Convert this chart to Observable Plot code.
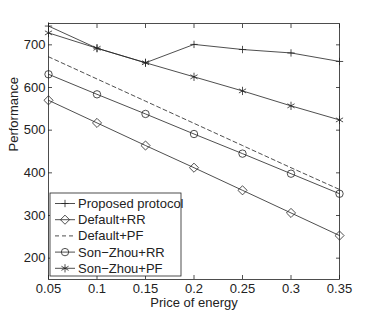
<!DOCTYPE html>
<html><head><meta charset="utf-8">
<script src="https://cdn.jsdelivr.net/npm/d3@7"></script>
<script src="https://cdn.jsdelivr.net/npm/@observablehq/plot@0.6"></script>
<style>
html,body{margin:0;padding:0;background:#fff;}
#chart{position:relative;width:374px;height:315px;}
</style>
</head><body><div id="chart"></div>
<script>
const prices = [0.05, 0.1, 0.15, 0.2, 0.25, 0.3, 0.35];
const proposed = [744, 692, 658, 701, 689, 681, 661];
const defaultRR = [570, 517, 464, 412, 359, 306, 253];
const defaultPF = [672, 620, 568, 516, 464, 412, 361];
const sonZhouRR = [631, 584, 538, 491, 445, 398, 351];
const sonZhouPF = [728, 692, 658, 625, 592, 557, 524];
const seriesNames = ["Proposed protocol", "Default+RR", "Default+PF", "Son\u2212Zhou+RR", "Son\u2212Zhou+PF"];
const seriesValues = [proposed, defaultRR, defaultPF, sonZhouRR, sonZhouPF];
const seriesSymbols = ["plus", "diamond2", null, "circle", "asterisk"];
const symbolR = {plus: 2.5, diamond2: 4.1, circle: 3.7, asterisk: 3.9};
const xTicks = [0.05, 0.1, 0.15, 0.2, 0.25, 0.3, 0.35];
const xTickLabels = ["0.05", "0.1", "0.15", "0.2", "0.25", "0.3", "0.35"];
const yTicks = [200, 300, 400, 500, 600, 700];

const ink = "#222";
const font = "Liberation Sans, Arial, Helvetica, sans-serif";

const marks = [];
seriesValues.forEach((vals, i) => {
  const data = prices.map((p, j) => ({x: p, y: vals[j]}));
  marks.push(Plot.line(data, {x: "x", y: "y", stroke: ink, strokeWidth: 0.8,
    strokeDasharray: seriesSymbols[i] ? null : "4,3"}));
  if (seriesSymbols[i]) {
    marks.push(Plot.dot(data, {x: "x", y: "y", symbol: () => seriesSymbols[i],
      r: symbolR[seriesSymbols[i]], stroke: ink, fill: "none", strokeWidth: 0.8}));
  }
});

const chart = Plot.plot({
  width: 374, height: 315,
  marginLeft: 48, marginRight: 35, marginTop: 23, marginBottom: 36,
  style: {fontFamily: font, fontSize: "13px", color: ink, background: "#fff"},
  x: {domain: [0.05, 0.35]},
  y: {domain: [150, 750]},
  symbol: {type: "identity"},
  marks: [
    Plot.frame({stroke: ink, strokeWidth: 0.8}),
    Plot.axisX({anchor: "bottom", ticks: xTicks, tickSize: -4, tickPadding: 8,
      tickFormat: (d) => xTickLabels[xTicks.indexOf(d)], label: null, stroke: ink, strokeWidth: 0.8, fill: ink}),
    Plot.axisX({anchor: "top", ticks: xTicks, tickSize: -4, tickFormat: () => "", label: null, stroke: ink, strokeWidth: 0.8}),
    Plot.axisY({anchor: "left", ticks: yTicks, tickSize: -4, tickPadding: 7, label: null, stroke: ink, strokeWidth: 0.8, fill: ink}),
    Plot.axisY({anchor: "right", ticks: yTicks, tickSize: -4, tickFormat: () => "", label: null, stroke: ink, strokeWidth: 0.8}),
    Plot.text(["Price of energy"], {frameAnchor: "bottom", dy: 27, text: d => d, fill: ink, fontSize: 13}),
    Plot.text(["Performance"], {frameAnchor: "left", dx: -35, rotate: -90, text: d => d, fill: ink, fontSize: 13}),
    ...marks
  ]
});
document.getElementById("chart").appendChild(chart);

// legend inside plot area (MATLAB style, southwest)
const svg = d3.select(chart.tagName.toLowerCase() === "svg" ? chart : chart.querySelector("svg"));
const lg = svg.append("g").attr("class", "legend").attr("text-anchor", "start");
const lx = 50, ly = 193, lw = 131, lh = 83;
lg.append("rect").attr("x", lx).attr("y", ly).attr("width", lw).attr("height", lh)
  .attr("fill", "#fff").attr("stroke", ink).attr("stroke-width", 0.8);
const symMap = {plus: d3.symbolPlus, diamond2: d3.symbolDiamond2, circle: d3.symbolCircle, asterisk: d3.symbolAsterisk};
seriesNames.forEach((name, i) => {
  const cy = ly + 10.5 + i * 16.2;
  lg.append("line").attr("x1", lx + 5).attr("x2", lx + 25).attr("y1", cy).attr("y2", cy)
    .attr("stroke", ink).attr("stroke-width", 0.8)
    .attr("stroke-dasharray", seriesSymbols[i] ? null : "4,3");
  const s = seriesSymbols[i];
  if (s) {
    const r = symbolR[s];
    lg.append("path").attr("d", d3.symbol(symMap[s], Math.PI * r * r)())
      .attr("transform", `translate(${lx + 15},${cy})`)
      .attr("fill", "none").attr("stroke", ink).attr("stroke-width", 0.8);
  }
  lg.append("text").attr("x", lx + 28).attr("y", cy).attr("dy", "0.35em")
    .attr("text-anchor", "start")
    .attr("fill", ink).attr("font-size", 13).attr("font-family", font).text(name);
});
</script>
</body></html>
